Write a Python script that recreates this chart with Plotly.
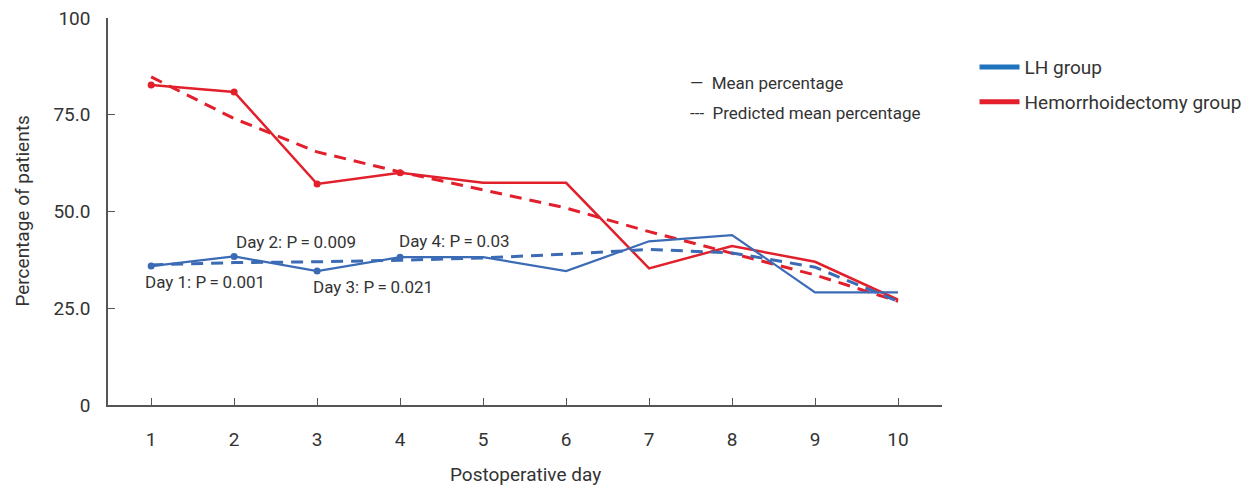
import plotly.graph_objects as go

days = [1, 2, 3, 4, 5, 6, 7, 8, 9, 10]
lh_mean = [35.9, 38.4, 34.6, 38.2, 38.2, 34.6, 42.3, 43.9, 29.1, 29.1]
lh_pred = [36.2, 36.8, 37.0, 37.4, 38.0, 39.0, 40.2, 39.3, 35.6, 26.8]
hem_mean = [82.7, 80.9, 57.1, 60.0, 57.4, 57.4, 35.3, 41.1, 37.0, 27.2]
hem_pred = [84.8, 74.0, 65.4, 60.2, 55.6, 50.9, 44.8, 39.3, 33.6, 26.8]
sig_days = [1, 2, 3, 4]
y_ticks = [0, 25, 50, 75, 100]
y_tick_labels = ["0", "25.0", "50.0", "75.0", "100"]
p_labels = ["Day 1: P\u2009=\u20090.001", "Day 2: P\u2009=\u20090.009",
            "Day 3: P\u2009=\u20090.021", "Day 4: P\u2009=\u20090.03"]
p_label_x = [0.90, 2.0, 2.93, 3.96]
p_label_y = [31.7, 42.2, 30.6, 42.4]

FONT = "Liberation Sans Narrow, Arial Narrow, Roboto, Arial, sans-serif"
RED = "#E1202B"
BLUE = "#3B6BB5"
TXT = "#333333"

fig = go.Figure()

fig.add_trace(go.Scatter(x=days, y=hem_pred, mode="lines",
                         line=dict(color=RED, width=3, dash="12px,8px"),
                         showlegend=False, hoverinfo="skip"))
fig.add_trace(go.Scatter(x=days, y=hem_mean, mode="lines",
                         line=dict(color=RED, width=2.5),
                         showlegend=False))
fig.add_trace(go.Scatter(x=sig_days, y=hem_mean[:4], mode="markers",
                         marker=dict(color=RED, size=7),
                         showlegend=False))
fig.add_trace(go.Scatter(x=days, y=lh_pred, mode="lines",
                         line=dict(color=BLUE, width=3, dash="12px,8px"),
                         showlegend=False, hoverinfo="skip"))
fig.add_trace(go.Scatter(x=days, y=lh_mean, mode="lines",
                         line=dict(color=BLUE, width=2.2),
                         showlegend=False))
fig.add_trace(go.Scatter(x=sig_days, y=lh_mean[:4], mode="markers",
                         marker=dict(color=BLUE, size=7),
                         showlegend=False))

# legend entries (group colours)
fig.add_trace(go.Scatter(x=[None], y=[None], mode="lines", name="LH group",
                         legendgroup="lh",
                         line=dict(color="#1F73BC", width=5)))
fig.add_trace(go.Scatter(x=[None], y=[None], mode="lines", name="Hemorrhoidectomy group",
                         legendgroup="hem",
                         line=dict(color="#E3202C", width=5)))

for txt, xx, yy in zip(p_labels, p_label_x, p_label_y):
    fig.add_annotation(x=xx, y=yy, xref="x", yref="y", text=txt, showarrow=False,
                       xanchor="left", yanchor="middle",
                       font=dict(family=FONT, size=17, color=TXT))

# line-style key
fig.add_annotation(x=0.695, y=0.833, xref="paper", yref="paper",
                   text="\u2014  Mean percentage", showarrow=False,
                   xanchor="left", yanchor="middle",
                   font=dict(family=FONT, size=17, color=TXT))
fig.add_annotation(x=0.695, y=0.755, xref="paper", yref="paper",
                   text="---  Predicted mean percentage", showarrow=False,
                   xanchor="left", yanchor="middle",
                   font=dict(family=FONT, size=17, color=TXT))

# axis titles
fig.add_annotation(x=-0.103, y=0.5, xref="paper", yref="paper",
                   text="Percentage of patients", showarrow=False, textangle=-90,
                   xanchor="center", yanchor="middle",
                   font=dict(family=FONT, size=19, color=TXT))
fig.add_annotation(x=0.5, y=-0.18, xref="paper", yref="paper",
                   text="Postoperative day", showarrow=False,
                   xanchor="center", yanchor="middle",
                   font=dict(family=FONT, size=19, color=TXT))

fig.update_layout(
    width=1252, height=491,
    margin=dict(l=108, r=310, t=18, b=86, autoexpand=False),
    paper_bgcolor="white", plot_bgcolor="white",
    font=dict(family=FONT, size=18, color=TXT),
    showlegend=True,
    legend=dict(x=1.039, y=0.922, xanchor="left", yanchor="top",
                font=dict(family=FONT, size=19, color=TXT),
                itemwidth=40, tracegroupgap=7, bgcolor="rgba(0,0,0,0)"),
    xaxis=dict(range=[0.48, 10.53], tickvals=days, ticks="inside", ticklen=7,
               tickcolor="#555", showline=True, linecolor="#555", linewidth=1.5,
               showgrid=False, zeroline=False, ticklabelstandoff=16,
               tickfont=dict(family=FONT, size=19, color=TXT)),
    yaxis=dict(range=[0, 100], tickvals=y_ticks, ticktext=y_tick_labels,
               ticks="inside", ticklen=7, tickcolor="#555", showline=True,
               linecolor="#555", linewidth=1.5, showgrid=False, zeroline=False,
               ticklabelstandoff=12,
               tickfont=dict(family=FONT, size=19, color=TXT)),
)

fig.write_html("out.html")
